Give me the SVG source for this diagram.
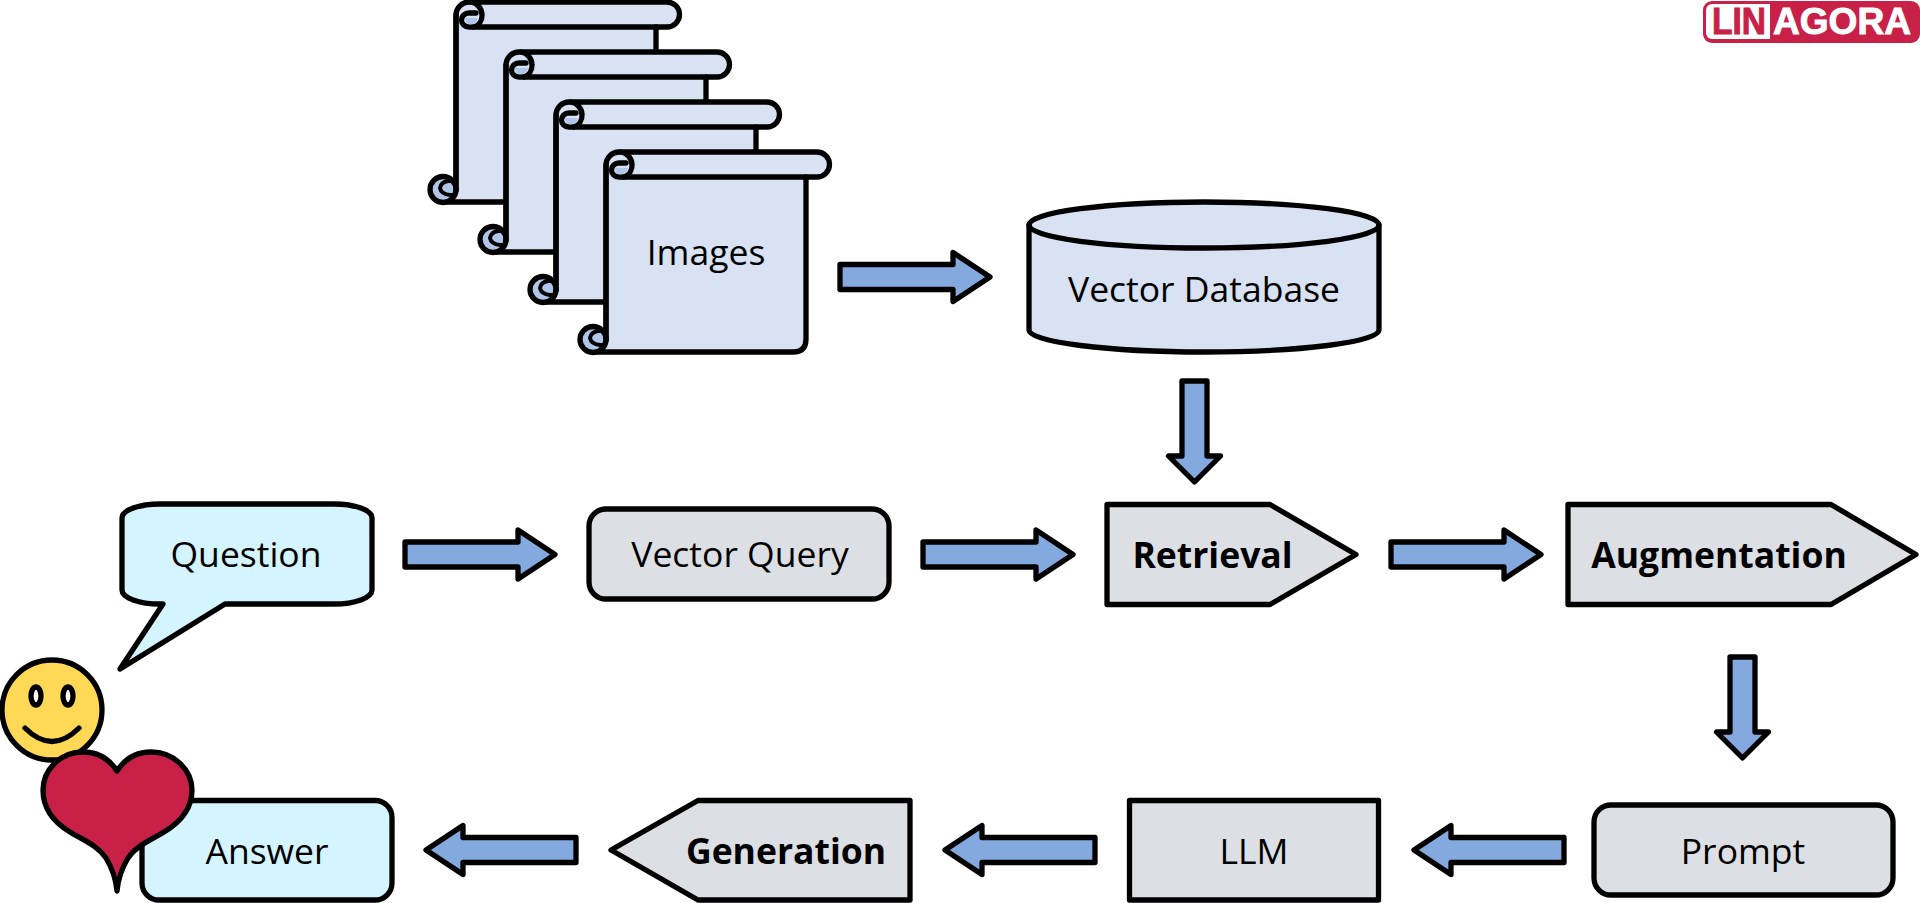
<svg xmlns="http://www.w3.org/2000/svg" xmlns:xlink="http://www.w3.org/1999/xlink" width="1920" height="903" viewBox="0 0 1920 903">
<style>
.s{stroke:#000;stroke-width:5.300;stroke-linejoin:round;stroke-linecap:round}
.a{fill:#84a9de}
.b{fill:#d8e2f3}
.c{fill:#d4f5ff}
.g{fill:#dcdfe4}
.d{fill:#b0c6e8}
.t{font-family:"Open Sans","Noto Sans",sans-serif;font-size:35.500px;fill:#000;text-anchor:middle}
.k{font-weight:700}
.n{fill:none}
.l{font-family:"Liberation Sans",sans-serif;font-weight:700;font-size:36px;text-anchor:middle;stroke-width:.9px}
</style>
<defs>
<path id="ar" class="s a" d="M0 -12.500H113V-24.500L150 0L113 24.500V12.500H0Z"/>
<path id="ad" class="s a" d="M-12.500 0H12.500V75H26L0 101L-26 75H-12.500Z"/>
<g id="scroll">
<path class="b" d="M606 165A13 13 0 0 1 619 152H817A12.500 12.500 0 0 1 817 177H806V339Q806 352 793 352H593Q606 352 606 339Z"/>
<path class="s n" d="M606 340V165A13 13 0 0 1 619 152H817A12.500 12.500 0 0 1 817 177H619A7.500 7 0 0 1 619 163H626"/>
<path class="s n" d="M621 152A13 13 0 0 1 632 165A12 12 0 0 1 624 177"/>
<path class="d" d="M615 168H628Q627 174 620 174.500Q616 174 615 168Z"/>
<path class="s n" d="M806 177V339Q806 352 793 352H593"/>
<circle class="s d" cx="593" cy="339.500" r="13"/>
<path class="s n" style="stroke-width:4px" d="M605 331H598Q591 332 590 338Q591 344 600 345H605"/>
<path class="s n" d="M606 165V340"/>
</g>
</defs>
<rect width="1920" height="903" fill="#fff"/>
<g id="connectors">
<use xlink:href="#ar" href="#ar" transform="translate(840 277)"/>
<use xlink:href="#ar" href="#ar" transform="translate(405 554.500)"/>
<use xlink:href="#ar" href="#ar" transform="translate(923 554.500)"/>
<use xlink:href="#ar" href="#ar" transform="translate(1391 554.500)"/>
<use xlink:href="#ad" href="#ad" transform="translate(1194.500 381)"/>
<use xlink:href="#ad" href="#ad" transform="translate(1742.500 657)"/>
<use xlink:href="#ar" href="#ar" transform="translate(1564 850) rotate(180)"/>
<use xlink:href="#ar" href="#ar" transform="translate(1095 850) rotate(180)"/>
<use xlink:href="#ar" href="#ar" transform="translate(576 850) rotate(180)"/>
</g>
<g id="scroll-1"><use xlink:href="#scroll" href="#scroll" transform="translate(-150 -150)"/></g>
<g id="scroll-2"><use xlink:href="#scroll" href="#scroll" transform="translate(-100 -100)"/></g>
<g id="scroll-3"><use xlink:href="#scroll" href="#scroll" transform="translate(-50 -50)"/></g>
<g id="scroll-4"><use xlink:href="#scroll" href="#scroll"/><text class="t" x="706" y="265">Images</text></g>
<g id="vector-database">
<path class="s b" d="M1029 225A175 23 0 0 1 1379 225V330C1379 342 1300 352 1204 352C1108 352 1029 342 1029 330Z"/>
<path class="s n" d="M1029 225A175 23 0 0 0 1379 225"/>
<text class="t" x="1204" y="302">Vector Database</text>
</g>
<g id="question">
<path class="s c" d="M122 518A38 14 0 0 1 160 504H334A38 14 0 0 1 372 518V590A38 14 0 0 1 334 604H225L120 669L163 604H160A38 14 0 0 1 122 590Z"/>
<text class="t" x="246" y="567">Question</text>
</g>
<g id="vector-query">
<rect class="s g" x="589" y="509" width="300" height="90" rx="17"/>
<text class="t" x="740" y="567">Vector Query</text>
</g>
<g id="retrieval">
<path class="s g" d="M1107 504.500H1270L1356 554.500L1270 604.500H1107Z"/>
<text class="t k" x="1212.500" y="568">Retrieval</text>
</g>
<g id="augmentation">
<path class="s g" d="M1568 504.500H1831L1916 554.500L1831 604.500H1568Z"/>
<text class="t k" x="1719" y="568">Augmentation</text>
</g>
<g id="prompt">
<rect class="s g" x="1594" y="805" width="299" height="90" rx="17"/>
<text class="t" x="1743" y="864">Prompt</text>
</g>
<g id="llm">
<rect class="s g" x="1129.500" y="800.500" width="249" height="99.500"/>
<text class="t" x="1254" y="864">LLM</text>
</g>
<g id="generation">
<path class="s g" d="M611 850L698 800.500H910V900H698Z"/>
<text class="t k" x="786" y="864">Generation</text>
</g>
<g id="answer">
<rect class="s c" x="142" y="800.500" width="250" height="99.500" rx="17"/>
<text class="t" x="267" y="864">Answer</text>
</g>
<g id="smiley">
<circle class="s" fill="#ffd955" cx="52" cy="710" r="50"/>
<ellipse class="s" fill="#fff" cx="36" cy="696" rx="5" ry="9"/>
<ellipse class="s" fill="#fff" cx="68" cy="696" rx="5" ry="9"/>
<path class="s n" d="M25 728Q52 755 79 728"/>
</g>
<g id="heart">
<path class="s" fill="#c82046" d="M117 771C108 757 95 752 83 752C60 752 43 770 43 790C43 810 55 823 70 832C85 841 98 846 106 858C112 868 116 880 117 891C118 880 122 868 128 858C136 846 149 841 164 832C179 823 192 810 192 790C192 770 174 752 151 752C139 752 126 757 117 771Z"/>
</g>
<g id="logo">
<rect x="1703" y="1" width="217" height="42" rx="9" fill="#c82046"/>
<path fill="#fff" d="M1712 4H1770V39H1712A6 6 0 0 1 1706 33V10A6 6 0 0 1 1712 4Z"/>
<text class="l" x="1739" y="34" textLength="54" lengthAdjust="spacingAndGlyphs" fill="#c82046" stroke="#c82046">LIN</text>
<text class="l" x="1842" y="34" textLength="138" lengthAdjust="spacingAndGlyphs" fill="#fff" stroke="#fff">AGORA</text>
</g>
</svg>
